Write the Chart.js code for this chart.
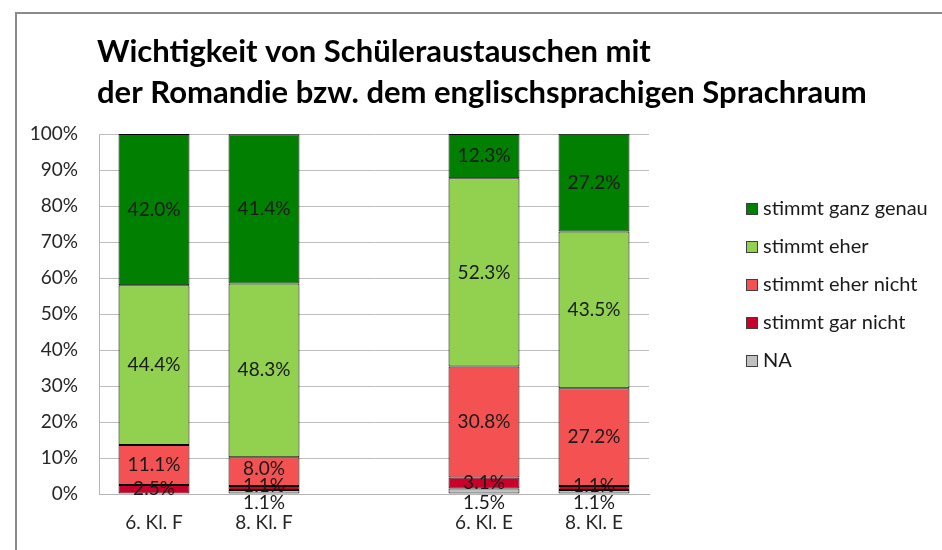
<!DOCTYPE html>
<html>
<head>
<meta charset="utf-8">
<script src="https://cdn.jsdelivr.net/npm/chart.js@4.4.1/dist/chart.umd.min.js"></script>
<style>
  html, body { margin: 0; padding: 0; background: #fff; }
  #wrap { width: 942px; height: 550px; position: relative; }
</style>
</head>
<body>
<div id="wrap"><canvas id="chart" width="942" height="550"></canvas></div>
<script>
// ── Data ───────────────────────────────────────────────────────────────────
const categories = ['6. Kl. F', '8. Kl. F', '', '6. Kl. E', '8. Kl. E'];
const seriesNames = ['NA', 'stimmt gar nicht', 'stimmt eher nicht', 'stimmt eher', 'stimmt ganz genau'];
const naValues       = [0,    1.1, null, 1.5,  1.1];
const garNicht       = [2.5,  1.1, null, 3.1,  1.1];
const eherNicht      = [11.1, 8.0, null, 30.8, 27.2];
const eher           = [44.4, 48.3, null, 52.3, 43.5];
const ganzGenau      = [42.0, 41.4, null, 12.3, 27.2];
const yTicks = [0, 10, 20, 30, 40, 50, 60, 70, 80, 90, 100];
const titleLines = ['Wichtigkeit von Schüleraustauschen mit', 'der Romandie bzw. dem englischsprachigen Sprachraum'];

const COLORS = ['#C0C0C0', '#C8002A', '#F45252', '#92D050', '#007F00'];
const FONT = 'Lato, "Open Sans", sans-serif';

const seriesValues = [naValues, garNicht, eherNicht, eher, ganzGenau];

// ── Frame, title, legend, value labels ────────────────────────────────────
const decorPlugin = {
  id: 'decor',
  beforeDraw(chart) {
    const ctx = chart.ctx;
    ctx.save();
    ctx.strokeStyle = '#8a8a8a';
    ctx.lineWidth = 2;
    ctx.beginPath();
    ctx.moveTo(16, 550);
    ctx.lineTo(16, 13);
    ctx.lineTo(942, 13);
    ctx.stroke();
    ctx.restore();
  },
  afterDraw(chart) {
    const ctx = chart.ctx;
    const area = chart.chartArea;
    ctx.save();

    // title
    ctx.fillStyle = '#000';
    ctx.font = 'bold 31px ' + FONT;
    ctx.textBaseline = 'middle';
    ctx.textAlign = 'left';
    titleLines.forEach((t, i) => ctx.fillText(t, 97, 52 + i * 41));

    // legend (top series first)
    ctx.font = '20px ' + FONT;
    const n = chart.data.datasets.length;
    for (let i = 0; i < n; i++) {
      const ds = chart.data.datasets[n - 1 - i];
      const y = 209 + i * 38;
      ctx.fillStyle = ds.backgroundColor;
      ctx.fillRect(746, y - 6, 12, 12);
      ctx.strokeStyle = '#404040';
      ctx.lineWidth = 1;
      ctx.strokeRect(746.5, y - 5.5, 11, 11);
      ctx.fillStyle = '#1a1a1a';
      ctx.fillText(ds.label, 763, y);
    }

    // value labels
    ctx.font = '19px ' + FONT;
    ctx.textAlign = 'center';
    ctx.fillStyle = '#1a1a1a';
    chart.data.labels.forEach((_, idx) => {
      let prevY = null;
      chart.data.datasets.forEach((ds, di) => {
        const v = ds.data[idx];
        if (v == null || v === 0) return;
        const bar = chart.getDatasetMeta(di).data[idx];
        let y;
        if (di === 0) {
          y = area.bottom + 9;
        } else {
          y = (bar.y + bar.base) / 2;
          if (prevY !== null && y > prevY - 17) y = prevY - 17;
        }
        prevY = y;
        ctx.fillText(v.toFixed(1) + '%', bar.x, y);
      });
    });
    ctx.restore();
  }
};

new Chart(document.getElementById('chart'), {
  type: 'bar',
  data: {
    labels: categories,
    datasets: seriesNames.map((name, i) => ({
      label: name,
      data: seriesValues[i],
      backgroundColor: COLORS[i],
      borderColor: '#000',
      borderWidth: 1,
      borderSkipped: false,
      categoryPercentage: 1,
      barPercentage: 0.645,
    })),
  },
  options: {
    responsive: false,
    animation: false,
    events: [],
    layout: { padding: { left: 20, top: 134, right: 293, bottom: 0 } },
    plugins: {
      legend: { display: false },
      title: { display: false },
      tooltip: { enabled: false },
    },
    scales: {
      x: {
        stacked: true,
        grid: { display: false },
        border: { color: '#b5b5b5', width: 1 },
        ticks: { color: '#262626', font: { family: FONT, size: 19 }, padding: 9, maxRotation: 0 },
        afterFit: s => { s.height = 56; },
      },
      y: {
        stacked: true,
        min: 0, max: 100,
        afterBuildTicks: s => { s.ticks = yTicks.map(v => ({ value: v })); },
        grid: { color: '#bdbdbd', drawTicks: false },
        border: { color: '#b5b5b5', width: 1 },
        ticks: { color: '#262626', font: { family: FONT, size: 19 }, padding: 21, callback: v => v + '%' },
        afterFit: s => { s.width = 79; },
      },
    },
  },
  plugins: [decorPlugin],
});
</script>
</body>
</html>
